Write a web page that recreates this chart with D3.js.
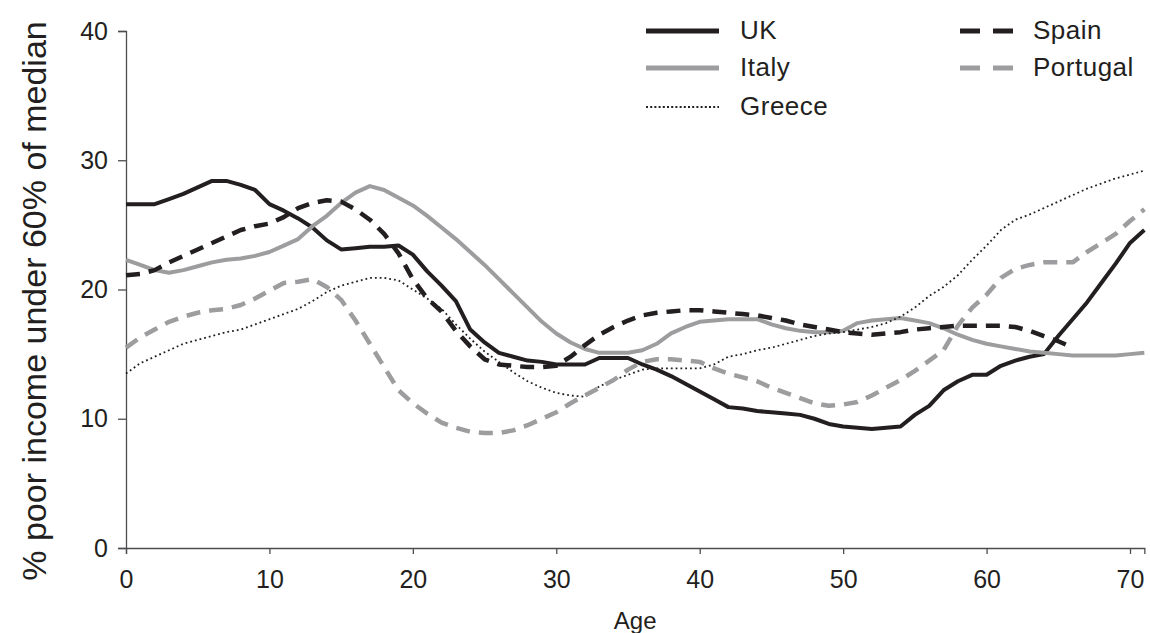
<!DOCTYPE html>
<html>
<head>
<meta charset="utf-8">
<script src="https://cdn.jsdelivr.net/npm/d3@7"></script>
<style>
  body { margin: 0; background: #fff; }
  text { font-family: "Liberation Sans", Arial, sans-serif; fill: #231f20; }
</style>
</head>
<body>
<div id="vis"></div>
<script>
// frame
const FRAME_WIDTH = 1150
const FRAME_HEIGHT = 633
const MARGINS = {left: 126, right: 6, top: 31, bottom: 85}

// data, one value per year of age
const AGES = d3.range(0, 72)

const UK = [26.6, 26.6, 26.6, 27.0, 27.4, 27.9, 28.4, 28.4, 28.1, 27.7,
  26.6, 26.1, 25.5, 24.8, 23.8, 23.1, 23.2, 23.3, 23.3, 23.4,
  22.7, 21.4, 20.3, 19.1, 16.9, 15.9, 15.1, 14.8, 14.5, 14.4,
  14.2, 14.2, 14.2, 14.7, 14.7, 14.7, 14.2, 13.8, 13.3, 12.7,
  12.1, 11.5, 10.9, 10.8, 10.6, 10.5, 10.4, 10.3, 10.0, 9.6,
  9.4, 9.3, 9.2, 9.3, 9.4, 10.3, 11.0, 12.2, 12.9, 13.4,
  13.4, 14.1, 14.5, 14.8, 15.0, 16.4, 17.7, 19.0, 20.5, 22.0,
  23.6, 24.6]

const ITALY = [22.3, 21.9, 21.5, 21.3, 21.5, 21.8, 22.1, 22.3, 22.4, 22.6,
  22.9, 23.4, 23.9, 24.9, 25.7, 26.7, 27.5, 28.0, 27.7, 27.1,
  26.5, 25.7, 24.8, 23.9, 22.9, 21.9, 20.8, 19.7, 18.6, 17.5,
  16.6, 15.9, 15.4, 15.1, 15.1, 15.1, 15.3, 15.8, 16.6, 17.1,
  17.5, 17.6, 17.7, 17.7, 17.7, 17.3, 17.0, 16.8, 16.7, 16.7,
  16.8, 17.4, 17.6, 17.7, 17.8, 17.6, 17.4, 17.0, 16.5, 16.1,
  15.8, 15.6, 15.4, 15.2, 15.1, 15.0, 14.9, 14.9, 14.9, 14.9,
  15.0, 15.1]

const GREECE = [13.5, 14.3, 14.8, 15.3, 15.8, 16.1, 16.4, 16.7, 16.9, 17.3,
  17.7, 18.1, 18.5, 19.1, 19.8, 20.3, 20.6, 20.9, 20.9, 20.7,
  20.0, 19.3, 18.5, 17.3, 16.2, 15.2, 14.4, 13.6, 12.9, 12.4,
  12.0, 11.8, 11.7, 12.5, 13.0, 13.4, 13.8, 13.9, 13.9, 13.9,
  13.9, 14.2, 14.8, 15.0, 15.3, 15.5, 15.8, 16.1, 16.4, 16.6,
  16.7, 16.9, 17.1, 17.4, 17.9, 18.6, 19.5, 20.2, 21.1, 22.3,
  23.4, 24.6, 25.4, 25.8, 26.3, 26.8, 27.3, 27.8, 28.2, 28.6,
  28.9, 29.2]

const SPAIN = [21.1, 21.2, 21.5, 22.1, 22.6, 23.1, 23.6, 24.1, 24.6, 24.9,
  25.1, 25.6, 26.3, 26.7, 26.9, 26.8, 26.2, 25.4, 24.3, 22.8,
  20.8, 19.3, 18.3, 16.8, 15.6, 14.6, 14.2, 14.1, 14.0, 14.0,
  14.1, 14.8, 15.7, 16.5, 17.1, 17.6, 18.0, 18.2, 18.3, 18.4,
  18.4, 18.3, 18.2, 18.1, 18.0, 17.8, 17.6, 17.3, 17.1, 16.9,
  16.7, 16.6, 16.5, 16.6, 16.7, 16.9, 17.0, 17.1, 17.2, 17.2,
  17.2, 17.2, 17.1, 16.8, 16.4, 16.0, 15.5, null, null, null,
  null, null]

const PORTUGAL = [15.5, 16.3, 16.9, 17.5, 17.9, 18.2, 18.4, 18.5, 18.8, 19.3,
  19.9, 20.5, 20.6, 20.8, 20.2, 19.2, 17.6, 15.8, 14.0, 12.2,
  11.2, 10.4, 9.7, 9.3, 9.0, 8.9, 8.9, 9.1, 9.5, 10.0,
  10.5, 11.2, 11.8, 12.4, 13.0, 13.8, 14.4, 14.6, 14.6, 14.5,
  14.4, 13.9, 13.5, 13.2, 12.9, 12.4, 12.0, 11.6, 11.2, 11.0,
  11.1, 11.3, 11.8, 12.4, 13.0, 13.7, 14.5, 15.3, 17.2, 18.6,
  19.6, 20.9, 21.6, 21.9, 22.1, 22.1, 22.1, 22.9, 23.6, 24.3,
  25.3, 26.2]

const X_TICKS = [0, 10, 20, 30, 40, 50, 60, 70]
const Y_TICKS = [0, 10, 20, 30, 40]

// series styles
const SERIES = [
  {name: "UK", values: UK, color: "#231f20", width: 4, dash: null, col: 0, row: 0},
  {name: "Italy", values: ITALY, color: "#9d9d9f", width: 4, dash: null, col: 0, row: 1},
  {name: "Greece", values: GREECE, color: "#231f20", width: 1.8, dash: "1.8,3", col: 0, row: 2},
  {name: "Spain", values: SPAIN, color: "#231f20", width: 4.5, dash: "14,9", col: 1, row: 0},
  {name: "Portugal", values: PORTUGAL, color: "#9d9d9f", width: 4.5, dash: "14,9", col: 1, row: 1}
]

const VIS_WIDTH = FRAME_WIDTH - MARGINS.left - MARGINS.right
const VIS_HEIGHT = FRAME_HEIGHT - MARGINS.top - MARGINS.bottom

const FRAME = d3.select("#vis")
                .append("svg")
                .attr("width", FRAME_WIDTH)
                .attr("height", FRAME_HEIGHT)

// 0..70 maps onto 126..1130, axis runs on to age 71
const x = d3.scaleLinear()
            .domain([0, 71])
            .range([MARGINS.left, MARGINS.left + 1004 * 71 / 70])

const y = d3.scaleLinear()
            .domain([0, 40])
            .range([MARGINS.top + VIS_HEIGHT, MARGINS.top])

// x axis
const xAxis = FRAME.append("g")
    .attr("transform", "translate(0," + y(0) + ")")
    .call(d3.axisBottom(x).tickValues(X_TICKS).tickSize(6).tickPadding(16))
xAxis.select(".domain").attr("stroke", "#4d4d4f").attr("stroke-width", 1.3)
xAxis.selectAll(".tick line").attr("stroke", "#4d4d4f").attr("stroke-width", 1.3)
xAxis.selectAll(".tick text")
    .attr("font-size", "25px")
    .attr("font-family", "Liberation Sans, Arial, sans-serif")
    .attr("fill", "#231f20")

// y axis
const yAxis = FRAME.append("g")
    .attr("transform", "translate(" + x(0) + ",0)")
    .call(d3.axisLeft(y).tickValues(Y_TICKS).tickSize(8).tickPadding(10))
yAxis.select(".domain").attr("stroke", "#4d4d4f").attr("stroke-width", 1.3)
yAxis.selectAll(".tick line").attr("stroke", "#4d4d4f").attr("stroke-width", 1.3)
yAxis.selectAll(".tick text")
    .attr("font-size", "25px")
    .attr("font-family", "Liberation Sans, Arial, sans-serif")
    .attr("fill", "#231f20")

// axis titles
FRAME.append("text")
    .attr("x", (x(0) + x(71)) / 2)
    .attr("y", 629)
    .attr("text-anchor", "middle")
    .attr("font-size", "24px")
    .text("Age")

FRAME.append("text")
    .attr("transform", "translate(46,301) rotate(-90)")
    .attr("text-anchor", "middle")
    .attr("font-size", "34px")
    .text("% poor income under 60% of median")

// the lines
const line = d3.line()
    .defined(d => d[1] !== null)
    .x(d => x(d[0]))
    .y(d => y(d[1]))

SERIES.forEach(s => {
  FRAME.append("path")
      .datum(AGES.map((a, i) => [a, s.values[i]]))
      .attr("fill", "none")
      .attr("stroke", s.color)
      .attr("stroke-width", s.width)
      .attr("stroke-dasharray", s.dash)
      .attr("stroke-linejoin", "round")
      .attr("d", line)
})

// legend, two columns
const LEGEND_X = [646, 960]
const LEGEND_TEXT_X = [740, 1033]
const LEGEND_Y = [31, 68, 107]
SERIES.forEach(s => {
  const lx = LEGEND_X[s.col]
  const ly = LEGEND_Y[s.row]
  const solid = s.dash === null
  const dotted = s.name == "Greece"
  FRAME.append("line")
      .attr("x1", lx).attr("x2", lx + (s.col == 1 ? 53 : 73))
      .attr("y1", ly).attr("y2", ly)
      .attr("stroke", s.color)
      .attr("stroke-width", dotted ? 2 : 5)
      .attr("stroke-dasharray", solid ? null : (dotted ? "2,2.2" : "20,13"))
  FRAME.append("text")
      .attr("x", LEGEND_TEXT_X[s.col])
      .attr("y", ly + 8)
      .attr("font-size", "26px")
      .attr("letter-spacing", "0.5px")
      .text(s.name)
})
</script>
</body>
</html>
